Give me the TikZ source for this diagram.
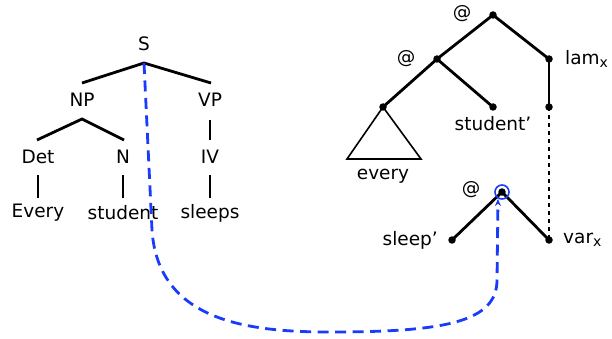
\documentclass[tikz,border=0pt]{standalone}
\usepackage{fontspec}
\setmainfont{DejaVu Sans}
\usetikzlibrary{arrows.meta}
\definecolor{linkblue}{RGB}{25,60,250}
\newcommand{\subx}{\raisebox{-0.3ex}{\fontsize{14}{16}\selectfont x}}
\begin{document}
\begin{tikzpicture}[x=1pt,y=-1pt,
  lbl/.style={inner sep=0pt, anchor=center, font=\fontsize{18.5}{22}\selectfont},
  edge/.style={line width=2.8pt, black},
  dotnode/.style={circle, fill=black, minimum size=7.5pt, inner sep=0pt},
  link/.style={line width=2.8pt, linkblue, dash pattern=on 11pt off 6.5pt}]
\useasboundingbox (0,0) rectangle (612,339);
% left tree labels
\node[lbl] (S) at (144,44) {S};
\node[lbl] (NP) at (82,100) {NP};
\node[lbl] (VP) at (210,100) {VP};
\node[lbl] (Det) at (38,157) {Det};
\node[lbl] (N) at (123,157) {N};
\node[lbl] (IV) at (210,157) {IV};
\node[lbl] (Every) at (38,213) {Every};
\node[lbl] (student) at (123,213) {student};
\node[lbl] (sleeps) at (210,213) {sleeps};
% left tree junctions
\coordinate (Sj) at (144,63);
\coordinate (NPt) at (82,83);
\coordinate (VPt) at (211,83);
\coordinate (NPj) at (82,119);
\coordinate (Dett) at (37,140);
\coordinate (Nt) at (124,140);
\coordinate (VPj) at (210,120);
\coordinate (IVt) at (210,140);
\coordinate (Detb) at (38,175);
\coordinate (Everyt) at (38,198);
\coordinate (Nb) at (123,175);
\coordinate (studentt) at (123,198);
\coordinate (IVb) at (210,175);
\coordinate (sleepst) at (210,198);
\draw[edge] (NPt) -- (Sj) -- (VPt);
\draw[edge] (Dett) -- (NPj) -- (Nt);
\draw[edge] (VPj) -- (IVt);
\draw[edge] (Detb) -- (Everyt);
\draw[edge] (Nb) -- (studentt);
\draw[edge] (IVb) -- (sleepst);
% right tree
\node[dotnode] (top) at (493,15) {};
\node[dotnode] (app) at (437,59) {};
\node[dotnode] (lam) at (549,59) {};
\node[dotnode] (ev) at (383,107) {};
\node[dotnode] (stu) at (493,107) {};
\node[dotnode] (lamb) at (549,107) {};
\node[dotnode] (app2) at (502,192) {};
\node[dotnode] (slp) at (452,240) {};
\node[dotnode] (var) at (549,240) {};
\coordinate (triL) at (347,159);
\coordinate (triR) at (421,159);
\node[lbl] (at1) at (462,14) {@};
\node[lbl] (at2) at (406,59) {@};
\node[lbl] (at3) at (471,190) {@};
\node[lbl, anchor=west] (lamL) at (565,59) {lam\subx};
\node[lbl] (stuL) at (493,124) {student’};
\node[lbl] (evL) at (383,176) {every};
\node[lbl, anchor=east] (slpL) at (438,240) {sleep’};
\node[lbl, anchor=west] (varL) at (563,240) {var\subx};
\draw[edge] (app.center) -- (top.center) -- (lam.center);
\draw[edge] (ev.center) -- (app.center) -- (stu.center);
\draw[edge] (lam.center) -- (lamb.center);
\draw[line width=1.6pt] (ev.center) -- (triL) -- (triR) -- cycle;
\draw[line width=2.8pt, dash pattern=on 4pt off 4pt] (lamb.center) -- (var.center);
\draw[edge] (slp.center) -- (app2.center) -- (var.center);
\node[circle, draw=linkblue, line width=1.6pt, minimum size=14pt, inner sep=0pt] (circ) at (502,192) {};
% blue link
\draw[link, -{Stealth[length=7pt,width=6pt]}] (Sj) -- (152,230) .. controls (158,322) and (250,332) .. (330,332) .. controls (445,332) and (497,322) .. (497,280) -- (498,199);
\end{tikzpicture}
\end{document}
